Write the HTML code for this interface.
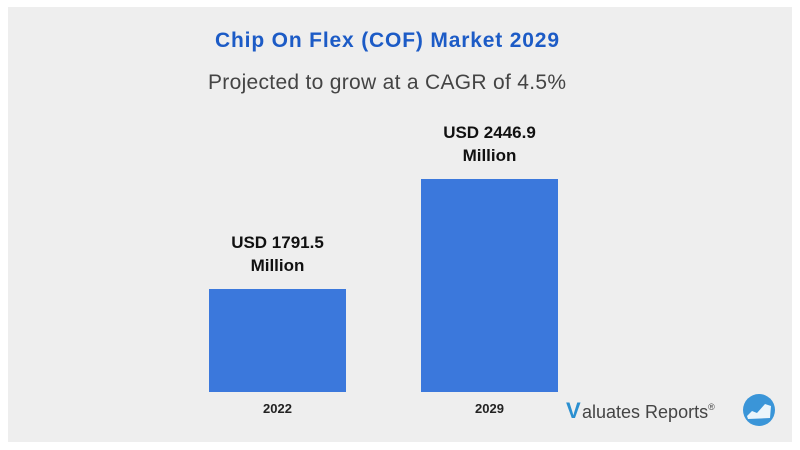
<!DOCTYPE html>
<html><head><meta charset="utf-8"><style>
body{margin:0;width:800px;height:450px;background:#fff;font-family:"Liberation Sans",sans-serif;overflow:hidden}
#panel{position:absolute;left:8px;top:7px;width:784px;height:435px;background:#eeeeee}
</style></head><body>
<div id="panel"></div>
<svg id="chart" width="800" height="450" style="position:absolute;left:0;top:0">
<text x="387" y="47" text-anchor="middle" font-size="21" font-weight="bold" fill="#1c5bc6" textLength="344">Chip On Flex (COF) Market 2029</text>
<text x="387" y="89" text-anchor="middle" font-size="21" fill="#444" textLength="358">Projected to grow at a  CAGR of 4.5%</text>
<g id="bars"></g>
<g>
<text x="566" y="418" font-size="22" font-weight="bold" fill="#2a8fd0">V</text>
<text x="582" y="418" font-size="18" fill="#444">aluates Reports<tspan font-size="9" dy="-8">®</tspan></text>
<circle cx="759" cy="410" r="16" fill="#3a95d8"/>
<path d="M747 416 L752 411 L757 413 L765 404 L771 406 L770 418 L748 419 Z" fill="#fff" opacity="0.9"/>
</g>
</svg>
<script>
const categories=["2022","2029"];
const values=[1791.5,2446.9];
const valueLabels=["USD 1791.5","USD 2446.9"];
const svg=document.getElementById('bars');
const NS='http://www.w3.org/2000/svg';
const base=392, k=110/655.4, vmin=1791.5-103/k;
const y=v=>base-(v-vmin)*k;
const x=i=>209+i*212;
const bw=137;
categories.forEach((c,i)=>{
 const r=document.createElementNS(NS,'rect');
 r.setAttribute('x',x(i));r.setAttribute('y',y(values[i]));
 r.setAttribute('width',bw);r.setAttribute('height',base-y(values[i]));
 r.setAttribute('fill','#3b78dc');
 
 
 svg.appendChild(r);
 const cx=x(i)+bw/2;
 const t1=document.createElementNS(NS,'text');
 t1.setAttribute('x',cx);t1.setAttribute('y',y(values[i])-41);
 t1.setAttribute('text-anchor','middle');t1.setAttribute('font-size','17');t1.setAttribute('font-weight','bold');t1.setAttribute('fill','#111');
 t1.textContent=valueLabels[i];
 
 
 svg.appendChild(t1);
 const t2=document.createElementNS(NS,'text');
 t2.setAttribute('x',cx);t2.setAttribute('y',y(values[i])-18);
 t2.setAttribute('text-anchor','middle');t2.setAttribute('font-size','17');t2.setAttribute('font-weight','bold');t2.setAttribute('fill','#111');
 t2.textContent='Million';
 
 
 svg.appendChild(t2);
 const t3=document.createElementNS(NS,'text');
 t3.setAttribute('x',cx);t3.setAttribute('y',413);
 t3.setAttribute('text-anchor','middle');t3.setAttribute('font-size','13');t3.setAttribute('font-weight','bold');t3.setAttribute('fill','#222');
 t3.textContent=c;
 
 
 svg.appendChild(t3);
});
</script>
</body></html>
